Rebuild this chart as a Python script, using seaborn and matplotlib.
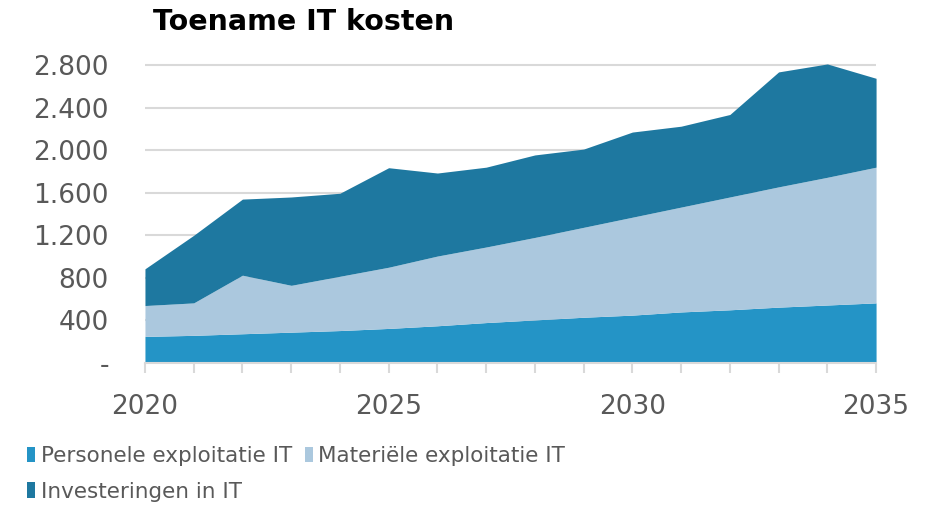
import matplotlib
matplotlib.use("Agg")
import matplotlib.pyplot as plt
from matplotlib.patches import Patch
from matplotlib.ticker import FuncFormatter
import seaborn as sns
import pandas as pd

# IT costs per year, stacked
years = list(range(2020, 2036))
personeel = [250, 260, 275, 290, 305, 325, 350, 380, 405, 430, 450, 480, 500, 525, 545, 565]
materieel = [290, 305, 550, 440, 510, 575, 655, 710, 775, 845, 920, 985, 1060, 1130, 1200, 1275]
investeringen = [345, 635, 715, 830, 780, 935, 780, 750, 775, 735, 800, 760, 775, 1080, 1065, 835]

series_names = ["Personele exploitatie IT", "Materiële exploitatie IT", "Investeringen in IT"]
colors = ["#2494c6", "#abc8de", "#1e78a0"]

df = pd.DataFrame({"jaar": years,
                   series_names[0]: personeel,
                   series_names[1]: materieel,
                   series_names[2]: investeringen})

sns.set_theme(style="white")
plt.rcParams["font.family"] = ["DejaVu Sans"]

fig = plt.figure(figsize=(9.31, 5.08), dpi=100)
ax = fig.add_axes([0.1557, 0.2854, 0.941 - 0.1557, 0.893 - 0.2854])

ax.stackplot(df["jaar"], [df[n] for n in series_names], colors=colors,
             linewidth=0, zorder=3)

ax.set_xlim(2020, 2035)
ax.set_ylim(0, 2900)
ax.set_yticks(range(0, 2801, 400))


def nl_fmt(v, pos):
    if v == 0:
        return "-"
    return f"{int(v):,}".replace(",", ".")


ax.yaxis.set_major_formatter(FuncFormatter(nl_fmt))
ax.set_xticks(years)
ax.set_xticklabels([str(y) if y % 5 == 0 else "" for y in years])

ax.grid(axis="y", color="#d9d9d9", linewidth=1.5, zorder=0)
ax.grid(axis="x", visible=False)
sns.despine(ax=ax, left=True, top=True, right=True)
ax.spines["bottom"].set_color("#d9d9d9")
ax.spines["bottom"].set_linewidth(1.5)
ax.spines["bottom"].set_zorder(4)

ax.tick_params(axis="x", which="major", length=7, width=1.5, color="#d9d9d9",
               labelsize=19, labelcolor="#595959", pad=15, direction="out", bottom=True)
ax.tick_params(axis="y", length=0, labelsize=19, labelcolor="#595959", pad=26)

fig.text(0.164, 0.957, "Toename IT kosten", fontsize=20.5, fontweight="bold",
         color="black", ha="left", va="center")

# legend filled column-wise: column 1 = personeel, investeringen; column 2 = materieel
order = [0, 2, 1]
handles = [Patch(facecolor=colors[i], edgecolor="none") for i in order]
labels = [series_names[i] for i in order]
fig.legend(handles, labels, loc="upper left", bbox_to_anchor=(0.029, 0.122),
           ncol=2, frameon=False, handlelength=0.38, handleheight=0.72,
           handletextpad=0.25, columnspacing=0.6, labelspacing=0.72,
           borderaxespad=0, borderpad=0,
           prop={"family": "DejaVu Sans", "size": 15.5},
           labelcolor="#595959")

fig.savefig("out.png", dpi=100)
